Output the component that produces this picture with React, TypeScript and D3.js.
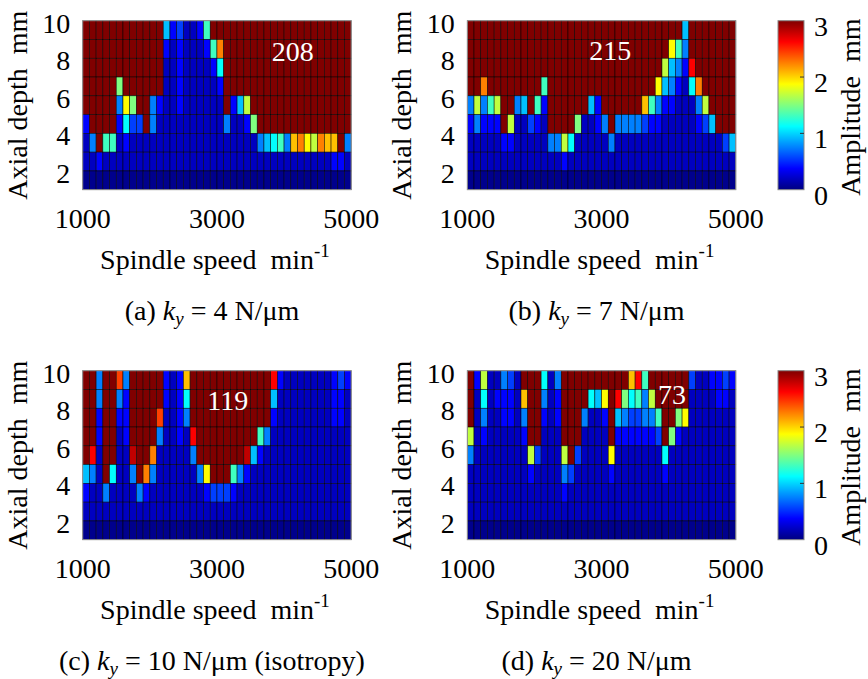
import React from 'react';
import * as d3 from 'd3';

// grid: 40 speed columns of 100 min^-1, 9 depth rows of 1 mm
const SPEED_EDGES = d3.range(1000, 5001, 100);
const X_TICKS = [1000, 3000, 5000];
const Y_TICKS = [2, 4, 6, 8, 10];
const C_TICKS = [0, 1, 2, 3];

// amplitude (mm) of each colour level seen in the cells
const LEVEL: Record<string, number> = {
  n: 0.04, d: 0.19, b: 0.38, B: 0.56, a: 0.75, s: 0.94, c: 1.13, q: 1.31,
  g: 1.5, l: 1.69, y: 1.88, m: 2.06, o: 2.25, R: 2.44, r: 2.63, X: 2.81, x: 3.0,
};

// rows from the top (9-10 mm) down to (1-2 mm); one letter per column
const MAP_A = [
  'xxxxxxxxxxxxsbBddbqxxxxxxxxxxxxxxxxxxxxx',
  'xxxxxxxxxxxxbdbdddbqoxxxxxxxxxxxxxxxxxxx',
  'xxxxxxxxxxxxddbddddbcxxxxxxxxxxxxxxxxxxx',
  'xxxxxgxxxxxxddbdddddbxxxxxxxxxxxxxxxxxxx',
  'xxxxxaygxxabddbddddddxbslxxxxxxxxxxxxxxx',
  'bxxxxbcBBxaddddddddddaddbgxxxxxxxxxxxxxx',
  'daxqqdbdddddddddddddddddddascqamoylommxa',
  'ddbddddddddddddddddddddddddddddddddddbbd',
  'nnnnnnnnnnnnnnnnnnnnnnnnnnnnnnnnnnnnnnnn',
];
const MAP_B = [
  'xxxxxxxxxxxxxxxxxxxxxxxxxxxxxxxxsxxxxxxx',
  'xxxxxxxxxxxxxxxxxxxxxxxxxxxxxxyqaxxxxxxx',
  'xxxxxxxxxxxxxxxxxxxxxxxxxxxxxlsabrxxxxxx',
  'xxoxxxxxxxxqxxxxxxxxxxxxxxxxysabdcoxxxxx',
  'alaqlxxasxqbxxxxxxsbxxxxxxmqabbdddalxxxx',
  'babbbxlddBbdxxxxgddbaxaaaaBbbdddddbBsxxx',
  'dddddbbdddddaalcdddddaddddddddddddddddBsa',
  'ddddddddddddddbddddddddddddddddddddddddd',
  'nnnnnnnnnnnnnnnnnnnnnnnnnnnnnnnnnnnnnnnn',
];
const MAP_C = [
  'xxaxxRaxxxxxbdbmxxxxxxxxxxxxrbdddddddbBb',
  'xxaxxabxxxxxbdbcxxxxxxxxxxxxsddddddddbbd',
  'xxbxxbbxxxxRddbaxxxxxxxxxxxxbddddddddbbd',
  'xxbxxdbxxxxaddbdrxxxxxxxxxqadddddddddddd',
  'xrdxxddXxxodddddaxxxxxxxXsbddddddddddddd',
  'sadxcddaxoaddddddayxxxqabddddddddddddddd',
  'bddaddddabddddddddbBBBbddddddddddddddddd',
  'dddddddddddddddddddddddddddddddddddddddd',
  'nnnnnnnnnnnnnnnnnnnnnnnnnnnnnnnnnnnnnnnn',
];
const MAP_D = [
  'xblddaBdxxxcdaxxxxxxxxxxmrqxxxxxxBddbbBb',
  'xdcdbbbdmxxadbxxxxcsyxrgcqalxxxxxddddbbd',
  'xdaddbbdaxxbdbxxxaddbxsaBBaaqxxgyddddddd',
  'ldbdddddbxxdddxxxddddxbbbbbbBxgbdddddddd',
  'addddddddlBdddlxBddddydddddddcdddddddddd',
  'dddddddddbddddaBdddddbdddddddbdddddddddd',
  'ddddddddddddddbddddddddddddddddddddddddd',
  'dddddddddddddddddddddddddddddddddddddddd',
  'nnnnnnnnnnnnnnnnnnnnnnnnnnnnnnnnnnnnnnnn',
];

const PANEL_IDS = ['a', 'b', 'c', 'd'];
const KY = ['4', '7', '10', '20'];
const KY_NOTE = ['', '', ' (isotropy)', ''];
const PEAK = ['208', '215', '119', '73'];
const PEAK_SPEED = [4130, 3130, 3160, 4050];
const PEAK_DEPTH = [7.85, 7.9, 7.9, 8.23];

const FONT = '"Liberation Serif", "Times New Roman", serif';
const W = 268.5;
const H = 169;
const LEFT = [82.7, 467.3];
const TOP = [20.7, 370.7];

function jet(t: number) {
  const c = (v: number) => Math.max(0, Math.min(1, v));
  const r = c(Math.min(4 * t - 1.5, -4 * t + 4.5));
  const g = c(Math.min(4 * t - 0.5, -4 * t + 3.5));
  const b = c(Math.min(4 * t + 0.5, -4 * t + 2.5));
  return d3.rgb(r * 255, g * 255, b * 255).toString();
}

const x = d3.scaleLinear().domain([1000, 5000]).range([0, W]);
const y = d3.scaleLinear().domain([1, 10]).range([H, 0]);
const color = d3.scaleSequential(jet).domain([0, 3]).clamp(true);
const cbar = d3.scaleLinear().domain([0, 3]).range([H, 0]);

function Panel({ idx, rows }: { idx: number; rows: string[] }) {
  const left = LEFT[idx % 2];
  const top = TOP[Math.floor(idx / 2)];
  const cx = left + W / 2;
  return (
    <g>
      <g transform={`translate(${left},${top})`}>
        {rows.map((row, r) =>
          row.split('').map((code, i) => {
            const x0 = x(SPEED_EDGES[i]);
            const x1 = x(SPEED_EDGES[i + 1]);
            const y0 = y(10 - r);
            const y1 = y(9 - r);
            return (
              <rect
                key={`${r}-${i}`}
                x={x0}
                y={y0}
                width={x1 - x0}
                height={y1 - y0}
                fill={color(LEVEL[code])}
                stroke="#000"
                strokeWidth={0.6}
                strokeOpacity={0.85}
              />
            );
          })
        )}
        <rect x={0} y={0} width={W} height={H} fill="none" stroke="#999" strokeWidth={1} />
        <text
          x={x(PEAK_SPEED[idx])}
          y={y(PEAK_DEPTH[idx])}
          textAnchor="middle"
          fill="#fff"
          fontSize={28}
        >
          {PEAK[idx]}
        </text>
        {Y_TICKS.map((t) => (
          <text key={t} x={-12.5} y={y(t) + 12} textAnchor="end" fontSize={28}>
            {t}
          </text>
        ))}
        {X_TICKS.map((t) => (
          <text key={t} x={x(t)} y={H + 38.5} textAnchor="middle" fontSize={28}>
            {t}
          </text>
        ))}
        <text x={W / 2 - 2} y={H + 79} textAnchor="middle" fontSize={28} style={{ whiteSpace: 'pre' }}>
          {'Spindle speed  min'}
          <tspan fontSize={19} dy={-12}>-1</tspan>
        </text>
        <text
          transform={`translate(${-56},${H / 2}) rotate(-90)`}
          textAnchor="middle"
          fontSize={28}
          style={{ whiteSpace: 'pre' }}
        >
          Axial depth  mm
        </text>
      </g>
      <text x={cx - 5} y={top + 299} textAnchor="middle" fontSize={28} style={{ whiteSpace: 'pre' }}>
        {`(${PANEL_IDS[idx]}) `}
        <tspan fontStyle="italic">k</tspan>
        <tspan fontStyle="italic" fontSize={19} dy={5}>y</tspan>
        <tspan dy={-5}>{` = ${KY[idx]} N/\u03bcm${KY_NOTE[idx]}`}</tspan>
      </text>
    </g>
  );
}

function ColorBar({ top }: { top: number }) {
  const stops = d3.range(0, 1.0001, 1 / 32);
  const id = `jet-${Math.round(top)}`;
  return (
    <g transform={`translate(778,${top})`}>
      <defs>
        <linearGradient id={id} x1="0" y1="1" x2="0" y2="0">
          {stops.map((s) => (
            <stop key={s} offset={s} stopColor={jet(s)} />
          ))}
        </linearGradient>
      </defs>
      <rect x={0} y={0} width={26} height={H} fill={`url(#${id})`} stroke="#888" strokeWidth={1} />
      {C_TICKS.map((t) => (
        <g key={t}>
          {t > 0 && t < 3 && <line x1={22} x2={26} y1={cbar(t)} y2={cbar(t)} stroke="#333" strokeWidth={1} />}
          <text x={36} y={cbar(t) + 15} fontSize={28}>
            {t}
          </text>
        </g>
      ))}
      <text
        transform={`translate(82,${H / 2 + 2}) rotate(-90)`}
        textAnchor="middle"
        fontSize={28}
        style={{ whiteSpace: 'pre' }}
      >
        Amplitude  mm
      </text>
    </g>
  );
}

export default function App() {
  const maps = [MAP_A, MAP_B, MAP_C, MAP_D];
  return (
    <div style={{ position: 'absolute', left: 0, top: 0 }}>
      <svg width={868} height={679} style={{ display: 'block', background: '#fff', fontFamily: FONT }}>
        {maps.map((rows, i) => (
          <Panel key={i} idx={i} rows={rows} />
        ))}
        <ColorBar top={TOP[0]} />
        <ColorBar top={TOP[1]} />
      </svg>
    </div>
  );
}
